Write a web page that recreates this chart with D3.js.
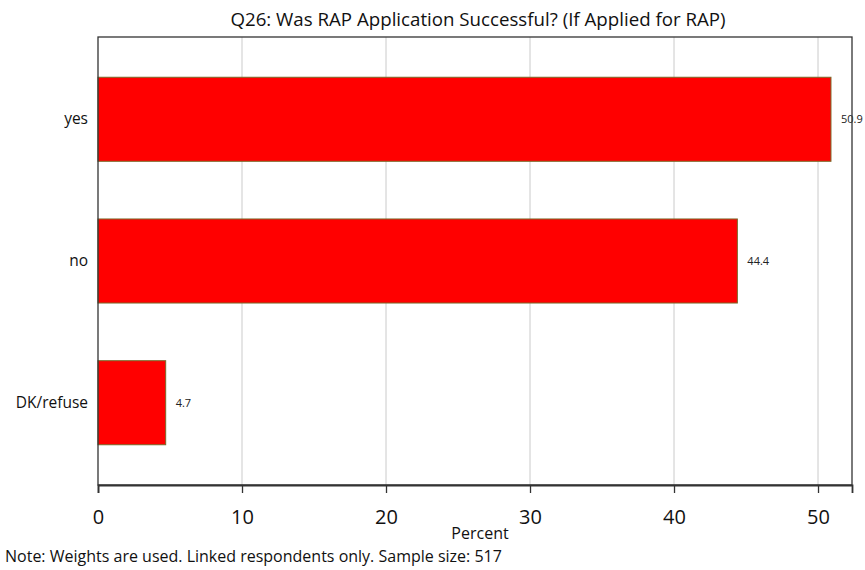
<!DOCTYPE html>
<html>
<head>
<meta charset="utf-8">
<script src="https://cdn.jsdelivr.net/npm/d3@7"></script>
<style>
  body { margin: 0; background: #fff; }
  svg { display: block; font-family: "Open Sans", "Noto Sans", sans-serif; }
</style>
</head>
<body>
<svg id="chart" width="865" height="570"></svg>
<script>
const categories = ["yes", "no", "DK/refuse"];
const percents = [50.9, 44.4, 4.7];
const xTicks = [0, 10, 20, 30, 40, 50];
const titleText = "Q26: Was RAP Application Successful? (If Applied for RAP)";
const xAxisTitle = "Percent";
const noteText = "Note: Weights are used. Linked respondents only. Sample size: 517";

(function () {
const data = categories.map((c, i) => ({ cat: c, val: percents[i] }));

const svg = d3.select("#chart");
const pL = 98, pR = 852, pT = 37, pB = 485;

const x = d3.scaleLinear().domain([0, 52.36]).range([pL, pR]);
const y = d3.scaleBand().domain(categories).range([pT, pB])
  .paddingInner(0.407).paddingOuter(0.284);

// gridlines
svg.append("g").selectAll("line").data(xTicks.filter(t => t > 0)).join("line")
  .attr("x1", d => x(d)).attr("x2", d => x(d))
  .attr("y1", pT).attr("y2", pB)
  .attr("stroke", "#dcdcdc").attr("stroke-width", 1.5);

// bars
svg.append("g").selectAll("rect").data(data).join("rect")
  .attr("x", x(0)).attr("y", d => y(d.cat))
  .attr("width", d => x(d.val) - x(0)).attr("height", y.bandwidth())
  .attr("fill", "#ff0000").attr("stroke", "#7a6a2a").attr("stroke-width", 1);

// value labels
svg.append("g").selectAll("text").data(data).join("text")
  .attr("x", d => x(d.val) + 10).attr("y", d => y(d.cat) + y.bandwidth() / 2)
  .attr("dy", "0.35em").attr("font-size", 11).attr("fill", "#222")
  .text(d => d.val.toFixed(1));

// frame
svg.append("rect").attr("x", pL).attr("y", pT)
  .attr("width", pR - pL).attr("height", pB - pT)
  .attr("fill", "none").attr("stroke", "#333").attr("stroke-width", 1.3);

// x axis
const xAxis = d3.axisBottom(x).tickValues(xTicks).tickSize(8).tickPadding(17).tickFormat(d3.format("d"));
const gx = svg.append("g").attr("transform", `translate(0,${pB})`).call(xAxis);
gx.select(".domain").attr("stroke", "#333").attr("stroke-width", 1.8);
gx.selectAll(".tick line").attr("stroke", "#333").attr("stroke-width", 1.3);
gx.selectAll(".tick text").attr("font-size", 20).attr("fill", "#111")
  .attr("font-family", "'Open Sans', sans-serif");

// y axis labels
const yAxis = d3.axisLeft(y).tickSize(0).tickPadding(10);
const gy = svg.append("g").attr("transform", `translate(${pL},0)`).call(yAxis);
gy.select(".domain").remove();
gy.selectAll(".tick text").attr("font-size", 15.5).attr("fill", "#111")
  .attr("font-family", "'Open Sans', sans-serif");

// title
svg.append("text").attr("x", 478).attr("y", 26).attr("text-anchor", "middle")
  .attr("font-size", 18.7).attr("fill", "#111").text(titleText);

// axis title
svg.append("text").attr("x", 480).attr("y", 539).attr("text-anchor", "middle")
  .attr("font-size", 16).attr("fill", "#111").text(xAxisTitle);

// note
svg.append("text").attr("x", 5).attr("y", 562)
  .attr("font-size", 16).attr("fill", "#111").text(noteText);
})();
</script>
</body>
</html>
